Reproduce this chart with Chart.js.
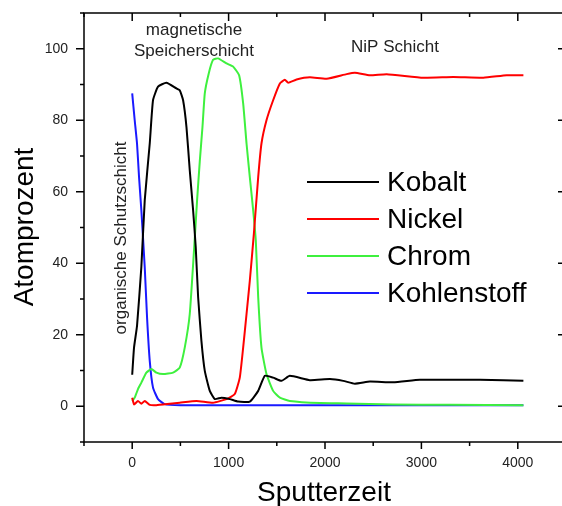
<!DOCTYPE html>
<html>
<head>
<meta charset="utf-8">
<script src="https://cdn.jsdelivr.net/npm/chart.js@4/dist/chart.umd.min.js"></script>
<style>
  html, body { margin: 0; padding: 0; overflow: hidden; background: #fff; }
  #wrap { width: 568px; height: 506px; position: relative; }
</style>
</head>
<body>
<div id="wrap"><canvas id="chart"></canvas></div>
<script>
// ================== Data ==================
const seriesNames = ['Kobalt', 'Nickel', 'Chrom', 'Kohlenstoff'];
const seriesColors = ['#000000', '#ff0000', '#3ef03e', '#1a1aff'];

const kobaltTime = [0, 19, 50, 95, 130, 182, 216, 268, 355, 459, 493, 528, 563, 597, 632, 659, 684, 718, 753, 805, 857, 926, 1012, 1099, 1220, 1307, 1376, 1462, 1549, 1635, 1843, 2051, 2189, 2310, 2466, 2708, 2985, 3331, 3608, 3851, 4058];
const kobaltValues = [8.8, 16.4, 22.5, 39, 57.6, 73.5, 85.6, 89.4, 90.5, 88.9, 88.4, 85.6, 78.1, 66, 54.8, 44.5, 30.5, 18.3, 9.9, 4.3, 2.0, 2.4, 2.0, 1.3, 1.3, 4.3, 8.5, 8.0, 7.1, 8.5, 7.3, 7.6, 7.1, 6.3, 6.9, 6.7, 7.4, 7.4, 7.4, 7.3, 7.1];

const nickelTime = [0, 20, 60, 95, 130, 182, 250, 390, 493, 667, 839, 978, 1064, 1116, 1151, 1186, 1220, 1262, 1307, 1341, 1393, 1462, 1532, 1584, 1618, 1705, 1843, 2017, 2224, 2310, 2466, 2640, 3020, 3331, 3643, 3885, 4058];
const nickelValues = [2.4, 0.5, 1.5, 0.7, 1.5, 0.4, 0.3, 0.7, 1.0, 1.5, 1.0, 2.0, 3.4, 8.0, 16.4, 25.8, 35.1, 48.2, 64.1, 73.5, 80, 85.6, 90.3, 91.3, 90.5, 91.4, 92, 91.6, 92.9, 93.3, 92.6, 92.9, 91.9, 92.1, 91.9, 92.6, 92.6];

const chromTime = [0, 26, 60, 95, 147, 199, 251, 320, 424, 493, 545, 597, 649, 673, 701, 729, 753, 794, 839, 891, 978, 1047, 1109, 1151, 1186, 1220, 1255, 1282, 1307, 1341, 1393, 1462, 1532, 1635, 1947, 2224, 2700, 3300, 4058];
const chromValues = [1.5, 2.4, 4.8, 6.6, 9.4, 10.4, 9.4, 9.0, 9.4, 10.8, 16.4, 25.8, 47, 57.6, 68.5, 78.1, 87.5, 93.1, 96.9, 97.3, 95.9, 95, 92.6, 84.7, 73.5, 64.1, 54.8, 46.4, 30.5, 16.4, 9.0, 4.3, 2.4, 1.5, 0.9, 0.8, 0.5, 0.4, 0.3];

const kohlenstoffTime = [0, 26, 50, 71, 95, 130, 154, 182, 216, 268, 337, 500, 1000, 2000, 3000, 4058];
const kohlenstoffValues = [87.5, 80, 73.5, 64.1, 54.8, 38.9, 24.9, 12.7, 5.2, 2.0, 0.6, 0.3, 0.3, 0.3, 0.3, 0.3];

// axis ranges and labelled ticks
const xRange = [-500, 4500];
const yRange = [-10, 110];
const xTickLabels = [0, 1000, 2000, 3000, 4000];
const yTickLabels = [0, 20, 40, 60, 80, 100];

// text annotations inside the plot
const annotations = [
  { text: 'magnetische', x: 194, y: 30, rotate: false },
  { text: 'Speicherschicht', x: 194, y: 51, rotate: false },
  { text: 'NiP Schicht', x: 395, y: 47, rotate: false },
  { text: 'organische Schutzschicht', x: 121, y: 238, rotate: true }
];

function toPoints(times, values) {
  return times.map((t, i) => ({ x: t, y: values[i] }));
}

const allTimes = [kobaltTime, nickelTime, chromTime, kohlenstoffTime];
const allValues = [kobaltValues, nickelValues, chromValues, kohlenstoffValues];

const datasets = seriesNames.map((name, i) => ({
  label: name,
  data: toPoints(allTimes[i], allValues[i]),
  borderColor: seriesColors[i],
  backgroundColor: seriesColors[i],
  borderWidth: 2,
  pointRadius: 0,
  fill: false,
  tension: 0.15
}));

// ================== Frame, ticks, legend, labels ==================
const framePlugin = {
  id: 'frame',
  afterDraw(chart) {
    const ctx = chart.ctx;
    const { left, right, top, bottom } = chart.chartArea;
    const xs = chart.scales.x, ys = chart.scales.y;
    ctx.save();
    ctx.strokeStyle = '#000';
    ctx.lineWidth = 1.5;
    ctx.strokeRect(left, top, right - left, bottom - top);

    // x ticks every 500 (bottom outward, top inward)
    for (let v = xRange[0]; v <= xRange[1]; v += 500) {
      const px = xs.getPixelForValue(v);
      const major = v % 1000 === 0;
      ctx.beginPath();
      ctx.moveTo(px, bottom); ctx.lineTo(px, bottom + (major ? 7 : 4));
      ctx.moveTo(px, top); ctx.lineTo(px, top + (major ? 8 : 4));
      ctx.stroke();
    }
    // y ticks every 10 (left outward, right inward)
    for (let v = yRange[0]; v <= yRange[1]; v += 10) {
      const py = ys.getPixelForValue(v);
      const major = v % 20 === 0;
      ctx.beginPath();
      ctx.moveTo(left, py); ctx.lineTo(left - (major ? 8 : 4), py);
      ctx.moveTo(right, py); ctx.lineTo(right - (major ? 8 : 4), py);
      ctx.stroke();
    }

    // axis titles
    ctx.fillStyle = '#000';
    ctx.font = '28px "Liberation Sans", Arial, sans-serif';
    ctx.textAlign = 'center';
    ctx.textBaseline = 'alphabetic';
    ctx.fillText('Sputterzeit', 324, 501);
    ctx.save();
    ctx.translate(33, 227);
    ctx.rotate(-Math.PI / 2);
    ctx.fillText('Atomprozent', 0, 0);
    ctx.restore();

    // annotations
    ctx.font = '17px "Liberation Sans", Arial, sans-serif';
    ctx.fillStyle = '#222';
    annotations.forEach(a => {
      if (a.rotate) {
        ctx.save();
        ctx.translate(a.x, a.y);
        ctx.rotate(-Math.PI / 2);
        ctx.textBaseline = 'middle';
        ctx.fillText(a.text, 0, 0);
        ctx.restore();
      } else {
        ctx.textBaseline = 'middle';
        ctx.fillText(a.text, a.x, a.y);
      }
    });

    // legend inside the plot
    ctx.font = '28px "Liberation Sans", Arial, sans-serif';
    ctx.fillStyle = '#000';
    ctx.textAlign = 'left';
    ctx.textBaseline = 'middle';
    chart.data.datasets.forEach((ds, i) => {
      const y = 182 + i * 37;
      ctx.strokeStyle = ds.borderColor;
      ctx.lineWidth = 2;
      ctx.beginPath();
      ctx.moveTo(307, y); ctx.lineTo(379, y);
      ctx.stroke();
      ctx.fillText(ds.label, 387, y + 1);
    });
    ctx.restore();
  }
};

// ================== Chart ==================
new Chart(document.getElementById('chart'), {
  type: 'line',
  data: { datasets },
  options: {
    responsive: true,
    maintainAspectRatio: false,
    animation: false,
    layout: { padding: { top: 13, right: 2, left: 0, bottom: 0 } },
    plugins: {
      legend: { display: false },
      tooltip: { enabled: false }
    },
    scales: {
      x: {
        type: 'linear',
        min: xRange[0],
        max: xRange[1],
        grid: { display: false, drawTicks: false },
        border: { display: false },
        afterFit: s => { s.height = 64; s.paddingLeft = 0; s.paddingRight = 0; },
        afterBuildTicks: s => { s.ticks = xTickLabels.map(v => ({ value: v })); },
        ticks: {
          autoSkip: false,
          maxRotation: 0,
          padding: 13,
          color: '#222',
          callback: v => String(v),
          font: { family: '"Liberation Sans", Arial, sans-serif', size: 14 }
        }
      },
      y: {
        min: yRange[0],
        max: yRange[1],
        grid: { display: false, drawTicks: false },
        border: { display: false },
        afterFit: s => { s.width = 84; s.paddingTop = 0; s.paddingBottom = 0; },
        afterBuildTicks: s => { s.ticks = yTickLabels.map(v => ({ value: v })); },
        ticks: {
          autoSkip: false,
          padding: 16,
          color: '#222',
          callback: v => String(v),
          font: { family: '"Liberation Sans", Arial, sans-serif', size: 14 }
        }
      }
    }
  },
  plugins: [framePlugin]
});
</script>
</body>
</html>
